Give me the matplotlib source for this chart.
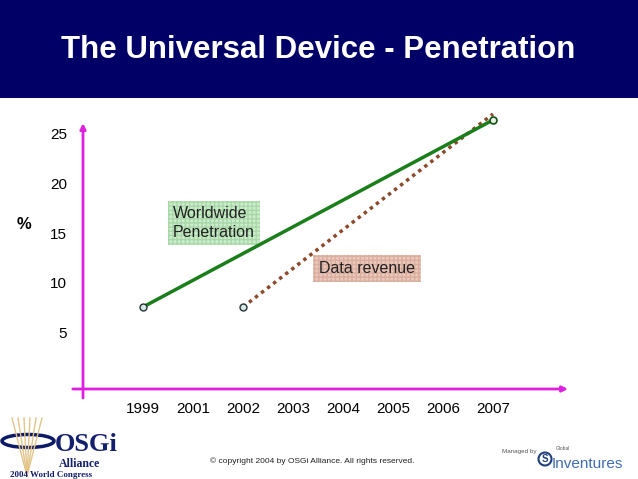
#!/usr/bin/env python3
"""Recreate the 'Universal Device - Penetration' slide chart."""
import matplotlib
matplotlib.use("Agg")
import matplotlib.pyplot as plt
from matplotlib.patches import Rectangle, Ellipse, Circle

plt.rcParams['font.family'] = ['Liberation Sans', 'DejaVu Sans']

# Data
years = ['1999', '2001', '2002', '2003', '2004', '2005', '2006', '2007']
y_ticks = [5, 10, 15, 20, 25]
worldwide_years = ['1999', '2007']
worldwide_pct = [7.6, 26.3]
revenue_years = ['2002', '2007']
revenue_pct = [7.6, 26.9]

title = "The Universal Device - Penetration"
W, H = 638, 479

fig = plt.figure(figsize=(W / 100, H / 100), dpi=100)

# Background layer in pixel coordinates (banner and footer logos)
bg = fig.add_axes([0, 0, 1, 1])
bg.set_xlim(0, W)
bg.set_ylim(H, 0)
bg.axis('off')
bg.add_patch(Rectangle((0, 0), W, 98, facecolor='#000066', edgecolor='none'))
bg.text(W / 2 - 1, 50, title, color='white', fontsize=22.5, fontweight='bold',
        ha='center', va='center')
bg.text(24, 224, '%', fontsize=12, fontweight='bold', ha='center', va='center')

# OSGi logo (rough drawing)
for top_x in [12, 18, 24, 30, 36, 42]:
    bg.plot([27, top_x], [476, 418], color='#e3c58a', lw=1)
bg.add_patch(Ellipse((28, 441), 52, 13, fill=False, edgecolor='#0d1a66', lw=2.5))
bg.text(55, 451, 'OSGi', family='Liberation Serif', fontweight='bold',
        fontsize=19, color='#14206e', va='baseline')
bg.text(59, 467, 'Alliance', family='Liberation Serif', fontweight='bold',
        fontsize=8.5, color='#14206e', va='baseline')
bg.text(10, 477, '2004 World Congress', family='Liberation Serif',
        fontweight='bold', fontsize=6.5, color='#14206e', va='baseline')
bg.text(312, 461, '\u00a9 copyright 2004 by OSGi Alliance. All rights reserved.',
        fontsize=6, ha='center', va='center', color='#222222')

# Global Inventures logo (rough drawing)
bg.text(502, 452, 'Managed by', fontsize=4.5, color='#555555', va='center')
bg.add_patch(Circle((545, 459), 6.5, fill=False, edgecolor='#1f3f7a', lw=1.5))
bg.text(545, 459, 'S', fontsize=7, fontweight='bold', color='#1f3f7a',
        ha='center', va='center')
bg.text(556, 449, 'Global', fontsize=3.5, color='#555555', va='center')
bg.text(552, 464, 'Inventures', fontsize=11, color='#3f6cb5', va='center')

# Chart axes, placed so the axis lines sit where the slide draws them
ax = fig.add_axes([83 / W, 90 / H, 485 / W, 289 / H])
ax.patch.set_alpha(0)
for s in ax.spines.values():
    s.set_visible(False)
ax.set_xlim(-1.2, 8.5)
ax.set_ylim(-0.6, 28.3)

x_idx = {y: i for i, y in enumerate(years)}
ax.plot([x_idx[y] for y in revenue_years], revenue_pct, color='#8b4a2b',
        lw=2.5, ls=(0, (1, 1.2)), zorder=3)
ax.plot([x_idx[y] for y in worldwide_years], worldwide_pct, color='#1a7f1a',
        lw=2.5, zorder=4)
ax.plot(x_idx[worldwide_years[0]], worldwide_pct[0], 'o', ms=5,
        mfc='#d9e6e6', mec='#223333', mew=1, zorder=5)
ax.plot(x_idx[revenue_years[0]], revenue_pct[0], 'o', ms=5,
        mfc='#d9e6e6', mec='#223333', mew=1, zorder=5)
ax.plot(x_idx[worldwide_years[-1]], worldwide_pct[-1], 'o', ms=5,
        mfc='#e6f0e6', mec='#145214', mew=1.2, zorder=5)

ax.set_xticks(range(len(years)))
ax.set_xticklabels(years)
ax.set_yticks(y_ticks)
ax.set_yticklabels([str(v) for v in y_ticks])
ax.tick_params(axis='x', length=0, pad=9.5, labelsize=11)
ax.tick_params(axis='y', length=0, pad=11.5, labelsize=11)

# Magenta axis arrows
arrow = dict(arrowstyle='-|>', color='#e020e0', lw=2, mutation_scale=8,
             shrinkA=0, shrinkB=0)
ax.annotate('', xy=(0, 0.92), xytext=(0, -0.031), xycoords='axes fraction',
            arrowprops=arrow, annotation_clip=False)
ax.annotate('', xy=(1.0, 0), xytext=(-0.021, 0), xycoords='axes fraction',
            arrowprops=arrow, annotation_clip=False)

# Series labels in hatched boxes
ax.text(0.6, 16.0, 'Worldwide\nPenetration', fontsize=11.5, color='#222222',
        va='center', ha='left', linespacing=1.3,
        bbox=dict(boxstyle='square,pad=0.3', facecolor='#cdeccd',
                  edgecolor='#a8d8a8', hatch='++++', lw=0))
ax.text(3.52, 11.45, 'Data revenue', fontsize=11.5, color='#222222',
        va='center', ha='left',
        bbox=dict(boxstyle='square,pad=0.35', facecolor='#ebc8bc',
                  edgecolor='#d9ae9f', hatch='++++', lw=0))

fig.savefig('out.png', dpi=100)
